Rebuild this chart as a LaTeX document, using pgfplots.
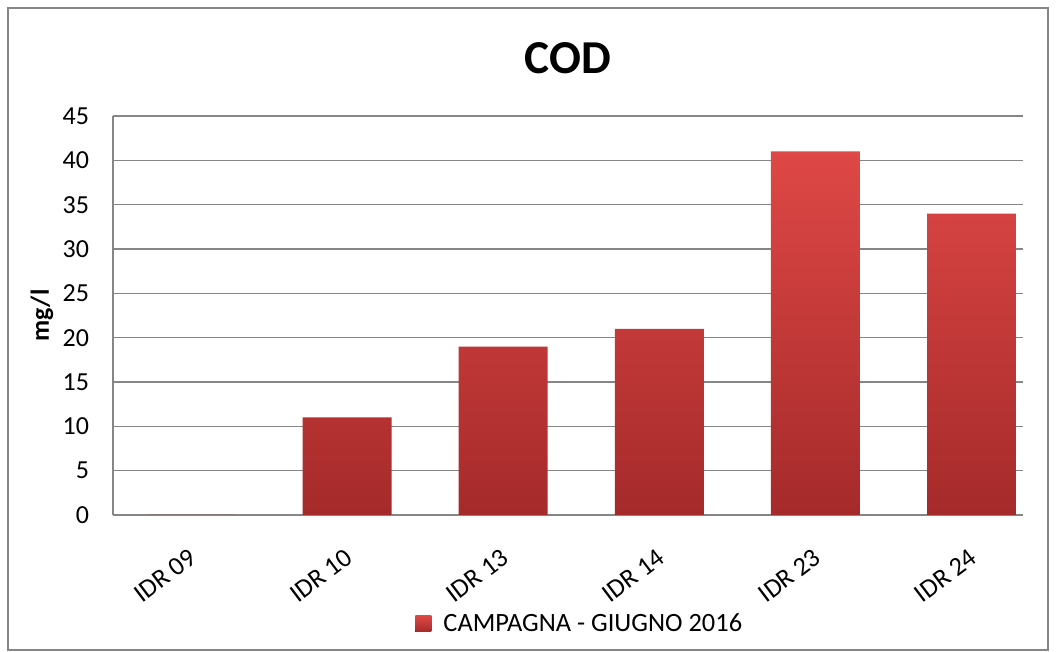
\documentclass[border=0pt]{standalone}
\usepackage{pgfplots}
\pgfplotsset{compat=1.18}
\usepackage{fontspec}
\setmainfont{Carlito}

\definecolor{barTop}{RGB}{222,72,70}
\definecolor{barBot}{RGB}{165,42,42}
\definecolor{gridGray}{RGB}{134,134,134}

\begin{document}
\begin{tikzpicture}
% overall page and chart frame (1px = 0.5pt)
\useasboundingbox (0,0) rectangle (528pt,326pt);
\draw[gridGray, line width=0.6pt] (4pt,1pt) rectangle (524pt,322pt);

\begin{axis}[
    at={(56.5pt,68.5pt)}, anchor=south west,
    scale only axis,
    width=455pt, height=199.5pt,
    xmin=-0.5, xmax=5.33,
    ymin=0, ymax=45,
    ytick={0,5,...,45},
    xtick={0,...,5},
    xticklabels={IDR 09, IDR 10, IDR 13, IDR 14, IDR 23, IDR 24},
    /pgf/number format/assume math mode=true,
    x tick label style={rotate=37, anchor=north east, font=\fontsize{13.2}{15}\selectfont, xshift=-7.5pt, yshift=-8.5pt},
    y tick label style={font=\fontsize{13}{15}\selectfont, xshift=-8.5pt},
    major tick length=0pt,
    axis x line*=bottom, axis y line*=left,
    axis line style={gridGray, line width=0.8pt, -},
    ymajorgrids=true,
    grid style={gridGray, line width=0.6pt},
    ylabel={\textbf{mg/l}},
    ylabel style={font=\fontsize{13}{15}\selectfont, at={(axis description cs:-0.078,0.5)}, anchor=center},
    title={\textbf{COD}},
    title style={font=\fontsize{23.6}{27}\selectfont, at={(0.5,1)}, anchor=center, yshift=23pt},
    legend style={at={(0.514,-0.273)}, anchor=center, draw=none, fill=none,
        font=\fontsize{13.2}{15}\selectfont},
    legend image code/.code={\fill[top color=barTop, bottom color=barBot] (0pt,-4pt) rectangle (8pt,4pt);},
    legend cell align=left,
    legend style={/tikz/every odd column/.append style={column sep=4pt}},
]
\addplot[ybar, bar width=0.57, top color=barTop, bottom color=barBot, draw=none]
    coordinates {(0,0) (1,11) (2,19) (3,21) (4,41) (5,34)};
\legend{CAMPAGNA - GIUGNO 2016}
\end{axis}
\end{tikzpicture}
\end{document}
